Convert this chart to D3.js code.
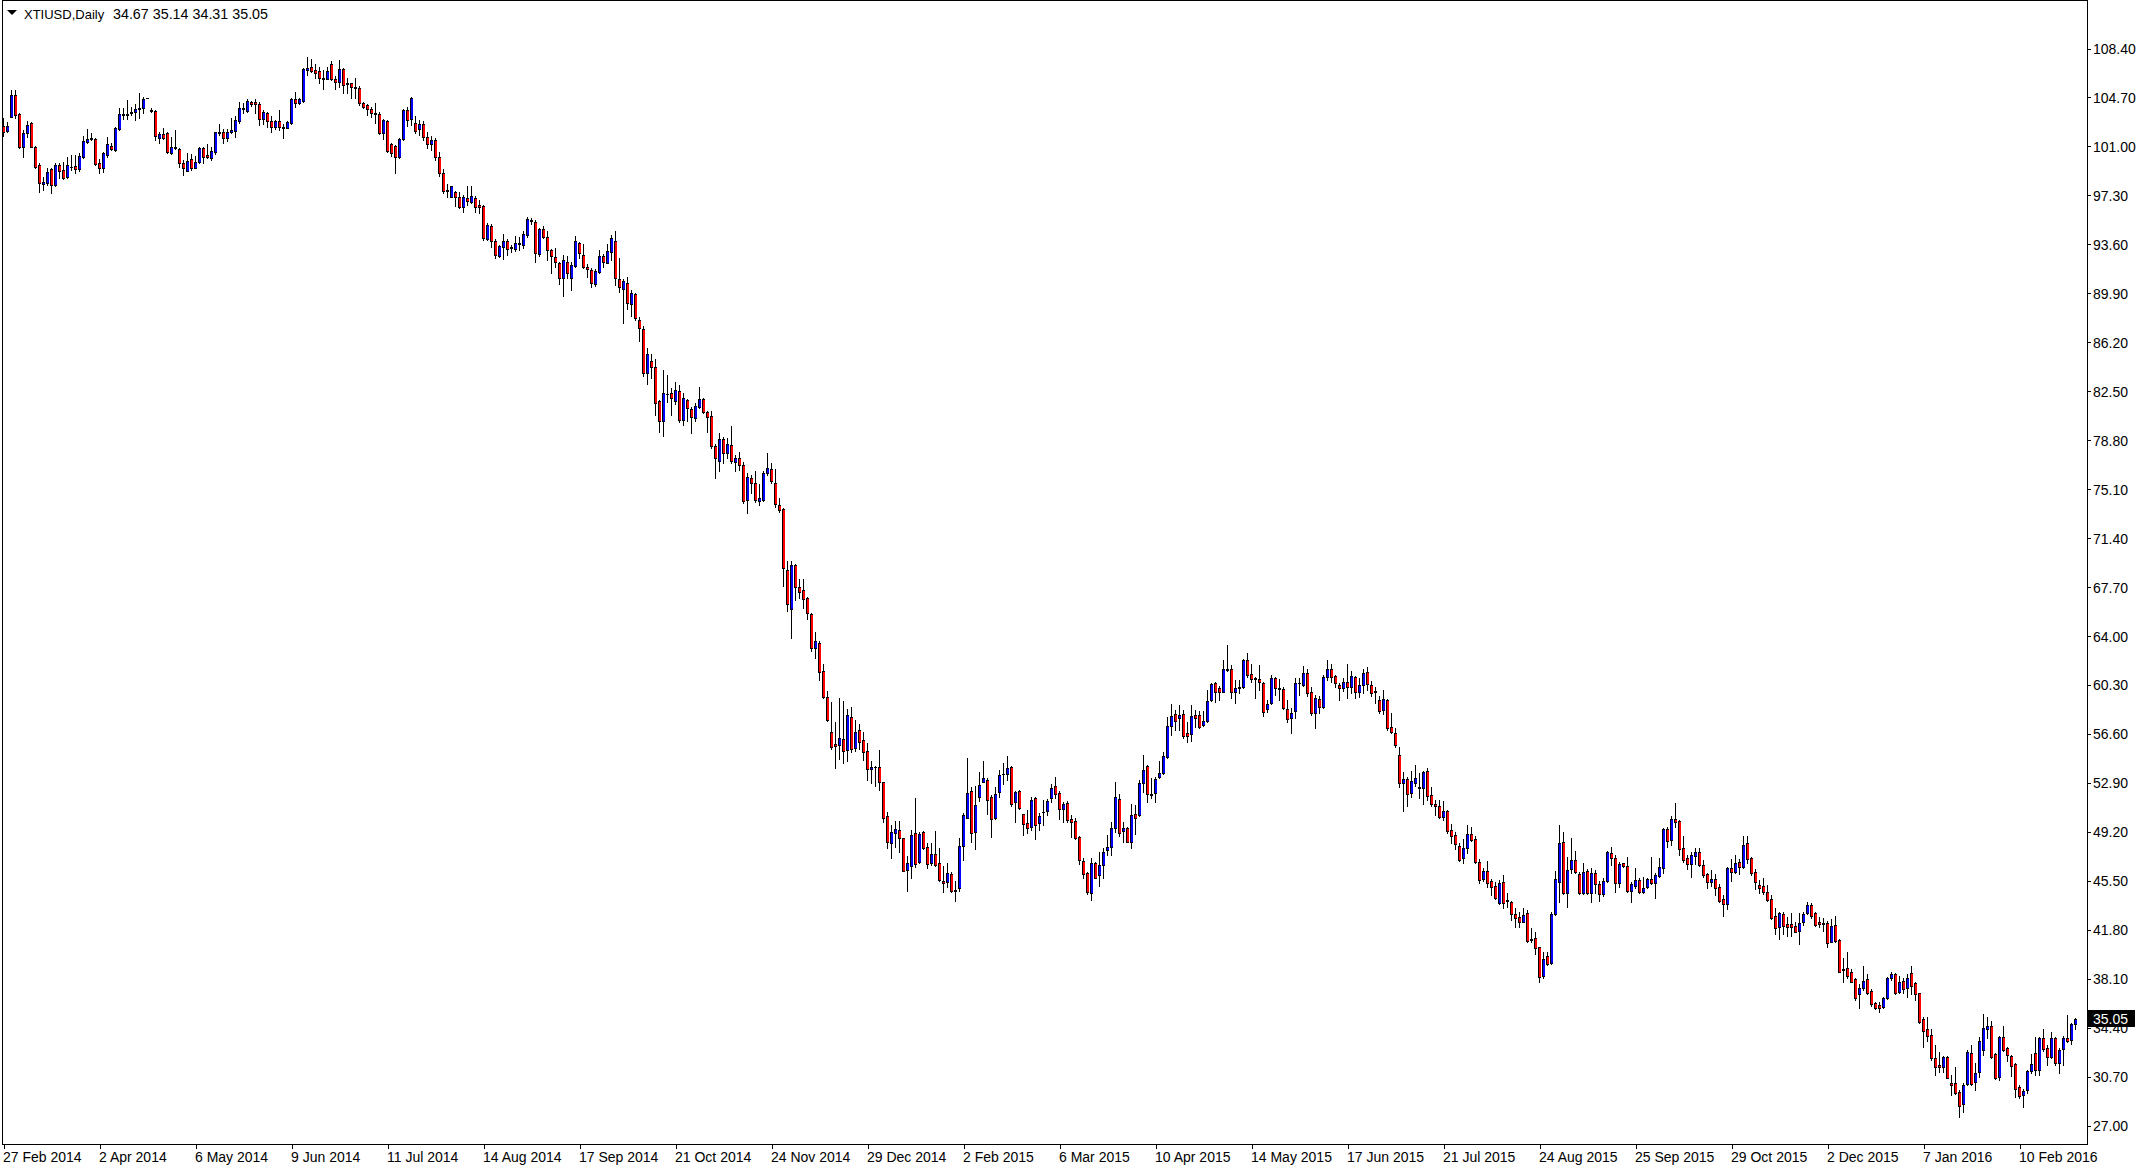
<!DOCTYPE html>
<html><head><meta charset="utf-8">
<script src="https://cdn.jsdelivr.net/npm/d3@7"></script>
<style>
html,body{margin:0;padding:0;background:#fff;overflow:hidden}
svg{display:block;font-family:"Liberation Sans",Arial,sans-serif}
</style></head><body>
<svg id="chart" width="2138" height="1171"></svg>
<script>
const symbolName = "XTIUSD,Daily";
const lastQuote = ["34.67","35.14","34.31","35.05"];

const opens = [
102.57,102.19,103.25,104.89,103.45,100.98,101.99,102.75,100.98,99.60,
98.14,98.26,99.27,98.09,99.60,99.22,98.67,99.42,99.52,99.27,
100.23,101.36,101.56,101.54,99.77,99.35,100.35,101.04,100.73,102.32,
103.38,103.40,103.55,103.63,103.83,103.88,104.64,103.76,103.68,101.61,
101.94,102.04,100.53,100.98,100.81,99.72,99.17,100.03,99.40,99.85,
100.91,100.35,100.10,100.61,102.09,102.07,101.61,102.12,102.19,102.92,
103.86,103.70,104.33,104.33,104.21,103.05,103.50,102.92,102.50,102.92,
102.47,102.42,102.75,104.56,104.26,104.46,106.78,106.98,106.78,106.70,
106.17,106.12,107.23,106.07,105.85,106.85,105.77,105.77,105.47,105.39,
104.26,104.13,103.81,103.55,103.45,102.04,102.92,101.16,101.06,100.18,
101.54,103.76,103.05,102.80,102.30,102.70,101.70,101.20,101.50,100.20,
99.00,97.69,97.21,97.54,97.16,96.45,97.08,96.83,97.08,96.58,
96.50,93.99,94.99,93.86,92.73,93.43,93.86,93.38,93.23,93.61,
93.56,94.31,95.42,95.32,92.88,94.74,94.14,93.18,92.63,92.22,
91.04,92.30,91.09,91.97,93.68,92.80,91.87,91.67,90.61,91.54,
92.75,92.22,93.05,93.86,90.99,90.23,90.66,89.07,89.83,87.89,
87.21,83.91,84.79,84.31,81.77,80.28,82.30,82.35,81.79,82.52,
80.33,81.84,81.16,80.51,81.34,81.92,80.96,80.63,78.32,77.23,
78.90,77.81,78.44,77.18,77.43,76.93,74.28,75.92,75.54,74.21,
74.28,76.35,76.60,75.54,73.86,73.60,68.99,66.04,69.37,67.68,
67.45,66.85,65.64,63.12,63.47,61.36,59.37,56.72,55.82,55.76,
56.19,55.39,57.86,55.56,56.90,56.14,55.31,53.93,54.13,54.08,
52.94,50.40,48.33,49.09,49.34,48.71,46.31,46.64,49.08,46.89,
49.16,48.08,46.82,47.50,46.82,45.48,45.43,45.98,44.78,44.98,
48.15,50.27,52.28,49.21,51.80,52.99,53.11,51.85,50.22,52.18,
53.57,53.54,54.07,51.48,52.28,50.52,49.84,49.59,51.78,49.84,
50.67,50.80,51.73,52.66,52.11,50.90,51.35,50.17,50.02,48.78,
46.99,46.06,44.55,46.81,45.93,46.69,47.82,48.07,49.51,51.67,
49.26,49.51,48.45,50.52,50.46,52.86,54.17,52.03,52.10,53.36,
53.61,54.82,57.22,58.07,57.82,58.10,56.66,56.59,58.02,58.02,
57.27,57.57,59.16,60.42,60.04,59.79,61.48,61.50,59.74,60.09,
60.17,62.18,61.10,60.79,60.74,60.42,58.48,58.90,60.79,60.09,
59.99,58.48,57.77,58.33,60.42,60.29,61.18,59.79,58.15,59.21,
58.61,60.87,61.48,60.97,60.29,60.04,60.50,60.17,60.92,59.79,
60.29,61.30,60.29,59.84,59.16,58.41,59.16,57.10,56.64,55.00,
52.91,53.19,52.16,52.86,52.56,52.48,53.80,51.98,51.30,51.15,
50.29,50.77,49.33,48.96,48.13,47.19,47.95,49.03,48.63,46.94,
45.61,46.26,45.50,45.10,43.84,45.38,44.04,43.92,42.96,42.73,
42.41,43.04,41.07,41.14,40.47,38.32,39.84,39.26,42.96,45.43,
48.40,44.55,46.39,47.07,46.01,44.60,46.24,44.60,46.06,45.23,
44.47,45.48,47.57,47.24,45.30,46.82,46.64,44.75,45.13,45.56,
44.62,45.05,45.63,45.30,45.88,46.49,49.41,48.58,50.17,50.02,
47.95,47.19,46.74,47.40,47.70,46.69,45.98,45.43,45.61,45.05,
44.10,43.72,46.49,46.14,46.89,46.56,48.33,47.19,46.14,45.18,
45.10,44.62,44.10,42.84,42.03,42.99,42.23,42.23,42.11,41.70,
42.36,43.09,43.67,43.04,42.36,42.28,42.28,40.90,42.16,41.02,
38.83,38.88,38.58,38.07,36.91,37.37,38.07,37.17,36.24,36.11,
35.98,36.66,38.12,38.43,37.12,37.92,37.37,38.51,37.75,36.99,
35.03,34.27,33.85,32.08,31.58,31.45,32.16,30.19,30.19,29.56,
28.60,30.14,32.46,30.32,31.07,32.71,34.30,34.53,32.41,30.70,
33.67,32.84,32.26,31.65,29.94,29.31,29.69,31.15,32.46,31.20,
33.59,32.84,32.16,33.59,31.75,32.76,33.59,33.47,34.67
];
const highs = [
103.13,102.87,105.27,105.27,103.50,102.24,102.95,102.87,101.06,99.72,
98.72,99.35,99.35,99.72,99.72,99.85,100.23,100.35,100.35,100.48,
101.79,102.29,101.99,101.61,100.03,100.61,101.74,101.29,102.50,103.88,
103.88,104.51,103.96,104.21,105.02,104.76,104.64,103.88,103.76,102.12,
102.37,102.07,101.69,102.24,100.86,99.98,100.48,100.43,100.28,100.98,
100.98,101.19,100.98,102.12,102.70,102.32,102.32,103.13,103.30,104.38,
104.31,104.56,104.46,104.56,104.38,103.76,103.63,103.33,102.97,103.76,
102.70,102.92,104.64,105.14,104.69,106.90,107.79,107.61,107.23,107.03,
106.78,106.98,107.46,106.32,107.53,106.90,106.15,105.82,106.15,105.57,
104.38,104.21,103.96,104.31,103.63,103.05,103.00,101.24,101.11,101.61,
103.81,103.96,104.76,103.30,103.00,102.90,102.10,101.80,101.60,100.60,
99.30,98.17,98.02,97.66,97.59,97.34,98.02,97.97,97.26,96.96,
96.56,95.20,95.14,93.99,93.56,94.39,93.99,93.56,94.24,94.14,
94.57,95.70,95.57,95.45,94.82,94.99,94.64,93.23,93.31,92.30,
92.80,92.68,92.30,94.24,93.81,93.63,92.12,91.79,91.72,93.18,
92.88,93.63,94.31,94.57,92.55,90.99,91.16,90.16,89.90,88.07,
87.39,85.75,85.29,84.94,81.84,84.11,83.73,82.72,83.18,82.98,
82.35,81.89,81.34,81.59,82.80,82.02,81.01,81.01,78.49,79.32,
79.00,78.95,79.88,77.69,77.94,77.13,76.30,76.17,76.48,75.47,
76.43,77.81,77.06,76.63,74.46,73.65,69.67,69.67,69.42,68.31,
68.31,66.98,65.72,64.33,63.63,61.86,59.85,59.04,57.53,59.34,
59.09,58.49,58.66,57.65,57.33,56.72,55.89,54.56,54.20,55.39,
52.99,50.68,49.72,50.02,50.02,48.76,47.40,49.34,51.78,49.16,
49.26,48.33,48.33,49.26,48.00,46.64,46.82,46.14,45.48,48.76,
50.60,54.80,52.61,52.69,53.74,54.58,53.24,51.98,52.61,53.87,
54.37,54.93,54.20,52.28,52.36,50.57,50.85,51.85,51.85,50.60,
51.60,51.68,52.79,53.37,52.28,51.48,51.53,50.47,50.22,48.91,
47.19,46.19,47.20,46.94,47.64,47.95,48.95,49.91,52.98,52.03,
49.91,49.58,51.27,51.22,53.11,55.00,54.24,53.29,53.36,54.55,
55.25,57.90,58.83,58.40,58.78,58.40,57.47,58.78,58.40,58.33,
58.33,59.91,60.42,60.54,60.24,62.18,63.31,61.80,60.67,60.67,
62.26,62.68,61.85,60.92,61.80,60.49,59.16,61.05,60.92,60.74,
60.17,59.16,58.58,60.84,60.80,61.73,61.48,60.12,59.54,59.46,
61.05,62.18,61.88,61.05,60.47,60.80,61.88,61.38,60.97,60.80,
61.48,61.63,60.62,60.12,59.46,59.92,59.21,58.20,57.02,55.58,
53.74,53.32,53.82,54.25,53.67,53.82,53.99,52.61,51.60,51.60,
51.53,50.85,49.79,49.21,48.33,48.63,49.71,49.59,48.88,47.12,
46.44,47.02,45.61,45.43,45.55,45.93,44.55,43.97,43.46,43.11,
43.41,43.29,41.90,41.60,40.52,40.14,40.14,43.11,46.24,49.71,
49.16,47.32,48.70,47.75,46.19,46.82,46.39,46.44,46.31,45.48,
45.68,47.75,48.07,47.45,46.94,46.87,47.32,45.38,46.49,45.68,
45.81,45.68,47.32,46.06,47.24,49.51,49.59,50.42,51.35,50.09,
48.91,47.45,47.65,48.00,47.95,47.07,46.06,46.31,45.99,45.23,
44.42,46.56,47.14,47.45,47.14,48.91,48.91,47.32,46.39,45.56,
45.73,45.18,44.42,43.42,43.16,43.11,42.79,43.04,42.36,43.04,
43.11,43.87,43.79,43.16,42.79,42.66,42.46,42.61,42.86,41.10,
39.69,40.09,38.83,38.12,37.67,39.08,38.43,37.32,36.36,36.31,
36.74,38.20,38.63,38.50,38.33,38.12,38.43,39.07,37.88,37.05,
35.23,35.23,34.27,33.09,32.58,32.26,32.26,30.82,31.40,29.69,
30.19,32.71,33.09,31.70,33.72,35.43,35.23,34.93,32.51,33.77,
34.53,32.96,32.33,31.70,30.07,29.74,31.20,32.41,33.67,33.67,
34.27,33.09,34.10,33.67,32.84,33.77,35.36,34.78,35.14
];
const lows = [
101.79,102.12,103.20,103.13,100.86,100.23,101.74,100.93,99.35,97.58,
97.71,98.09,97.46,98.01,98.59,98.52,98.59,99.22,98.97,99.17,
100.10,101.29,101.49,99.60,98.97,99.10,100.23,100.73,100.68,102.24,
103.08,103.10,103.38,103.00,103.13,103.55,104.64,103.63,101.49,101.24,
101.54,100.53,100.43,100.78,99.42,98.84,99.17,99.22,99.35,99.77,
99.72,100.10,99.98,100.43,101.87,101.29,101.44,102.04,101.69,102.80,
103.50,103.63,104.06,103.55,102.62,102.70,102.44,102.12,102.29,102.24,
101.61,102.37,102.70,104.01,104.18,104.38,106.40,106.65,106.15,105.82,
105.32,106.07,106.02,105.32,105.47,105.07,105.02,104.64,104.64,104.13,
103.88,103.38,103.25,102.80,101.94,101.54,100.61,100.28,99.02,100.10,
101.49,102.55,102.62,102.00,101.90,101.50,100.90,100.70,100.00,98.80,
97.50,97.21,97.16,96.50,96.33,96.08,96.58,96.71,96.08,95.95,
93.94,93.94,93.43,92.55,92.63,92.50,92.80,93.05,93.13,93.18,
93.31,94.19,95.14,92.30,92.68,94.06,92.42,91.47,91.92,90.61,
89.73,91.04,90.16,91.92,92.55,91.79,91.16,90.36,90.46,91.42,
91.87,92.17,92.42,90.54,90.03,87.69,88.72,88.22,87.89,86.30,
83.61,83.03,83.53,80.71,79.45,79.15,81.72,80.71,81.54,80.20,
79.95,80.26,79.32,80.26,81.26,80.84,79.45,78.19,75.97,76.48,
77.06,77.43,77.06,76.43,76.55,74.03,73.28,74.79,74.16,73.91,
74.21,76.17,75.54,73.78,73.35,67.81,65.92,63.83,66.72,66.90,
66.14,65.29,62.87,62.37,60.68,59.29,57.58,55.46,54.00,54.71,
54.38,54.56,55.21,55.31,55.46,54.63,53.12,52.87,52.69,52.36,
49.97,47.95,47.20,48.08,47.65,46.24,44.75,45.68,46.56,46.82,
47.90,46.49,46.69,46.64,45.48,44.62,45.05,44.67,43.97,44.72,
47.07,50.22,48.45,47.90,51.53,52.94,50.52,48.83,50.17,51.85,
52.79,53.11,51.17,49.92,50.92,48.96,49.08,49.34,48.63,49.34,
49.71,50.47,51.43,51.78,50.17,49.92,49.97,48.83,48.65,46.74,
45.73,44.47,44.08,45.68,45.12,45.73,47.44,47.44,49.20,48.90,
48.40,48.40,47.94,49.00,50.41,52.18,51.42,51.77,51.47,53.29,
53.54,54.75,56.51,56.89,56.89,56.31,55.96,56.06,57.14,57.07,
57.22,57.52,59.08,59.03,59.16,59.74,61.35,59.28,58.91,59.66,
60.09,60.92,60.54,59.33,59.91,57.97,58.22,58.83,59.54,59.16,
58.48,57.47,56.64,57.82,59.54,60.22,59.46,58.03,57.02,58.20,
58.53,60.67,60.55,60.12,59.16,59.87,59.29,59.72,59.29,59.36,
59.66,59.92,59.46,58.91,58.20,58.10,56.89,56.69,55.63,52.61,
50.80,51.15,51.85,52.66,51.73,51.30,51.60,51.15,50.47,50.22,
50.09,49.13,48.33,47.87,47.02,46.82,47.57,48.53,46.82,45.30,
45.50,45.05,44.42,44.09,43.74,43.41,43.54,42.53,42.03,42.03,
42.36,40.89,40.89,39.94,37.87,38.12,39.13,39.21,42.91,43.92,
44.47,43.54,46.06,46.06,44.47,44.47,44.47,43.87,44.55,43.97,
44.37,45.38,46.69,44.62,45.05,46.56,44.62,43.87,44.98,44.55,
44.55,44.93,45.23,44.22,45.81,46.06,48.07,48.20,49.59,47.45,
46.89,46.39,45.81,46.74,46.64,45.81,44.98,45.13,44.42,43.87,
42.86,43.37,45.48,46.06,45.99,46.49,46.82,45.94,44.88,44.55,
44.47,43.97,42.61,41.45,41.10,41.45,41.35,41.35,41.60,40.69,
42.16,42.96,42.71,42.11,42.03,41.70,40.52,40.85,40.90,38.58,
37.82,38.17,37.82,36.49,35.91,37.24,36.91,36.06,35.81,35.60,
35.86,36.56,38.00,36.91,36.99,36.99,36.74,36.93,36.49,34.73,
32.96,33.42,31.96,30.82,31.07,31.07,30.57,29.31,29.39,27.67,
28.05,30.07,30.07,29.69,30.65,32.33,33.59,32.08,30.49,30.44,
32.66,31.91,30.75,29.18,29.06,28.38,29.49,30.95,30.82,30.82,
32.66,31.58,32.08,31.58,30.99,31.58,33.34,33.14,34.31
];
const closes = [
102.12,102.55,104.89,103.38,100.98,102.04,102.62,100.98,99.42,98.21,
98.34,99.09,98.09,99.60,99.17,98.59,99.60,99.47,99.27,100.28,
101.41,101.54,101.66,99.67,99.35,100.53,101.19,100.81,102.37,103.45,
103.43,103.43,103.60,103.83,103.88,104.59,104.64,103.68,101.82,101.94,
101.61,100.61,100.98,100.86,99.72,99.35,99.90,99.35,99.85,100.86,
100.22,100.18,100.66,102.07,101.99,101.61,102.12,102.24,103.00,103.88,
103.91,104.46,104.21,104.18,103.05,103.58,102.92,102.50,102.92,102.44,
102.42,102.82,104.56,104.26,104.56,106.85,106.90,106.73,106.58,106.20,
106.12,106.70,106.07,105.85,106.85,105.64,105.69,105.47,105.39,104.26,
104.01,103.81,103.50,103.43,102.04,103.00,100.68,100.48,100.18,101.54,
103.76,103.00,104.64,102.20,102.70,101.70,101.20,101.50,100.20,99.00,
97.66,97.64,97.97,97.16,96.45,97.16,96.91,97.26,96.45,96.45,
94.06,95.07,93.88,92.80,93.48,93.86,93.25,93.33,93.68,93.73,
94.39,95.52,95.37,92.93,94.74,94.14,93.18,92.68,92.25,91.09,
92.42,91.47,92.05,93.86,92.93,91.92,91.72,90.71,91.62,92.75,
92.30,93.13,94.06,91.09,90.41,90.84,89.15,89.90,88.02,87.26,
83.91,85.29,84.29,81.64,80.28,82.35,82.25,81.97,82.60,80.33,
81.97,81.21,80.58,81.41,81.92,80.89,80.53,78.32,77.48,78.90,
77.81,78.52,77.23,77.43,76.93,74.21,75.99,75.54,74.28,74.41,
76.30,76.73,75.72,73.96,73.53,69.12,66.40,69.37,67.68,67.35,
66.80,65.72,63.12,63.63,61.31,59.42,57.65,55.64,55.71,56.27,
55.31,58.03,55.46,56.72,55.97,55.21,53.93,54.13,54.08,52.94,
50.22,48.41,49.16,49.42,48.76,46.26,46.82,48.96,46.74,49.01,
47.95,46.74,47.50,46.69,45.56,45.35,46.06,44.72,44.76,48.13,
50.47,52.11,49.08,51.23,52.74,53.29,51.60,50.14,52.03,53.49,
53.59,54.00,51.28,52.18,50.97,49.76,49.46,51.60,49.71,50.39,
50.72,51.53,52.53,52.03,50.90,51.28,50.09,49.92,48.76,47.07,
45.98,44.62,46.82,45.73,46.69,47.64,48.02,49.46,51.80,49.08,
49.51,48.45,50.46,50.21,52.86,53.87,52.03,51.98,53.19,53.61,
54.92,57.19,57.95,57.57,58.02,56.46,56.46,57.95,57.82,57.14,
57.57,59.08,60.34,59.79,59.74,61.50,61.42,59.74,60.09,60.14,
62.18,61.05,60.74,60.77,60.49,58.27,58.85,60.79,60.04,59.99,
58.53,57.72,58.15,60.42,60.47,61.18,59.72,58.20,59.29,58.61,
60.87,61.48,60.92,60.42,60.04,60.55,60.17,60.97,59.79,60.29,
61.18,60.34,59.72,59.79,58.33,59.21,57.02,56.77,55.76,52.86,
53.16,52.06,53.04,53.24,52.51,53.74,51.93,51.27,51.17,50.29,
50.77,49.26,48.91,48.25,47.07,47.95,49.03,48.58,46.94,45.56,
46.26,45.35,45.05,44.17,45.30,43.79,43.97,42.96,42.71,42.41,
42.91,40.94,41.02,40.39,38.25,39.56,39.18,42.96,45.63,48.33,
44.55,46.31,47.07,46.14,44.60,46.14,44.55,46.06,45.23,44.47,
45.48,47.65,47.19,45.30,46.74,46.64,44.72,45.23,45.56,44.62,
44.98,45.63,45.30,45.93,46.56,49.41,48.50,50.17,49.91,47.90,
47.07,46.74,47.45,47.70,46.69,45.96,45.38,45.63,44.93,43.97,
43.72,46.49,46.14,46.82,46.56,48.20,47.14,46.06,45.38,44.98,
44.62,44.04,42.71,41.90,43.04,42.11,42.03,41.98,41.65,42.28,
42.96,43.67,42.86,42.16,42.21,42.21,40.77,42.08,40.95,38.63,
38.78,38.33,37.87,36.66,37.37,37.92,36.99,36.16,35.91,35.91,
36.61,38.12,38.43,36.99,37.87,37.32,38.12,37.57,36.94,34.85,
34.15,33.77,32.08,31.45,31.40,32.16,30.62,30.07,29.49,28.50,
30.07,32.58,30.14,30.95,33.42,34.35,34.53,32.16,30.57,33.67,
32.71,32.33,31.50,29.74,29.26,29.61,31.12,31.65,31.20,33.59,
32.76,32.16,33.59,31.70,32.71,33.59,33.42,34.68,35.05
];

const dateTickBars = [0,24,48,72,96,120,144,168,192,216,240,264,288,312,336,360,384,408,432,456,480,504];
const dateTickLabels = ["27 Feb 2014","2 Apr 2014","6 May 2014","9 Jun 2014","11 Jul 2014","14 Aug 2014",
  "17 Sep 2014","21 Oct 2014","24 Nov 2014","29 Dec 2014","2 Feb 2015","6 Mar 2015","10 Apr 2015",
  "14 May 2015","17 Jun 2015","21 Jul 2015","24 Aug 2015","25 Sep 2015","29 Oct 2015","2 Dec 2015",
  "7 Jan 2016","10 Feb 2016"];
const priceTicks = [27.00,30.70,34.40,38.10,41.80,45.50,49.20,52.90,56.60,60.30,64.00,67.70,
  71.40,75.10,78.80,82.50,86.20,89.90,93.60,97.30,101.00,104.70,108.40];

// ---------- layout ----------
const plotLeft = 2, plotRight = 2087, plotBottom = 1144;
const svg = d3.select('#chart');
svg.append('rect').attr('width',2138).attr('height',1171).attr('fill','#fff');

const n = opens.length;
const x = d3.scaleLinear().domain([0, n - 1]).range([3.5, 3.5 + 4 * (n - 1)]);
const y = d3.scaleLinear().domain([27, 108.4]).range([1125.5, 48.5]);

const data = opens.map((o, i) => ({ i, o, h: highs[i], l: lows[i], c: closes[i] }));

const bars = svg.append('g').attr('shape-rendering', 'crispEdges');
bars.selectAll('line.wick').data(data).join('line').attr('class','wick')
  .attr('x1', d => x(d.i)).attr('x2', d => x(d.i))
  .attr('y1', d => Math.round(y(d.h))).attr('y2', d => Math.round(y(d.l)) + 1)
  .attr('stroke', '#000').attr('stroke-width', 1);

const bodyTop = d => Math.round(y(Math.max(d.o, d.c)));
const bodyBot = d => Math.round(y(Math.min(d.o, d.c)));
bars.selectAll('rect.body').data(data).join('rect').attr('class','body')
  .attr('x', d => x(d.i) - 1.5).attr('width', 3)
  .attr('y', bodyTop).attr('height', d => bodyBot(d) - bodyTop(d) + 1)
  .attr('fill', '#000');
bars.selectAll('rect.fill').data(data.filter(d => bodyBot(d) - bodyTop(d) >= 2)).join('rect').attr('class','fill')
  .attr('x', d => x(d.i) - 0.5).attr('width', 2)
  .attr('y', d => bodyTop(d) + 1).attr('height', d => bodyBot(d) - bodyTop(d) - 1)
  .attr('fill', d => d.c >= d.o ? '#0000ff' : '#ff0000');

// ---------- frame ----------
const frame = svg.append('g').attr('shape-rendering', 'crispEdges').attr('stroke', '#000');
frame.append('line').attr('x1', plotLeft + 0.5).attr('x2', plotLeft + 0.5).attr('y1', 0).attr('y2', plotBottom + 1);
frame.append('line').attr('x1', plotLeft).attr('x2', plotRight + 1).attr('y1', 0.5).attr('y2', 0.5);
frame.append('line').attr('x1', plotLeft).attr('x2', plotRight + 1).attr('y1', plotBottom + 0.5).attr('y2', plotBottom + 0.5);
frame.append('line').attr('x1', plotRight + 0.5).attr('x2', plotRight + 0.5).attr('y1', 0).attr('y2', plotBottom + 1);

// ---------- axes ----------
const xAxis = d3.axisBottom(x).tickValues(dateTickBars)
  .tickFormat((d, k) => dateTickLabels[k]).tickSizeInner(5).tickSizeOuter(0);
const gx = svg.append('g').attr('transform', `translate(0,${plotBottom})`).call(xAxis);
gx.select('.domain').remove();
gx.selectAll('.tick line').attr('stroke', '#000').attr('shape-rendering', 'crispEdges');
gx.selectAll('.tick text').attr('text-anchor', 'start').attr('x', -1).attr('y', 18).attr('dy', null)
  .attr('fill', '#000').style('font-size', '14px').style('font-family', '"Liberation Sans",Arial,sans-serif');

const yAxis = d3.axisRight(y).tickValues(priceTicks).tickFormat(d3.format('.2f'))
  .tickSizeInner(4).tickSizeOuter(0);
const gy = svg.append('g').attr('transform', `translate(${plotRight},0)`).call(yAxis);
gy.select('.domain').remove();
gy.selectAll('.tick line').attr('stroke', '#000').attr('shape-rendering', 'crispEdges');
gy.selectAll('.tick text').attr('x', 6).attr('dy', '0.36em').attr('fill', '#000')
  .style('font-size', '14px').style('font-family', '"Liberation Sans",Arial,sans-serif');

// current price label
const lastClose = closes[n - 1];
const yc = Math.round(y(lastClose));
svg.append('rect').attr('x', plotRight + 1).attr('y', yc - 9).attr('width', 47).attr('height', 17)
  .attr('fill', '#000').attr('shape-rendering', 'crispEdges');
svg.append('text').attr('x', plotRight + 6).attr('y', yc).attr('dy', '0.36em')
  .attr('fill', '#fff').style('font-size', '14px').text(d3.format('.2f')(lastClose));

// ---------- header ----------
svg.append('path').attr('d', 'M7,10 L17,10 L12,15 Z').attr('fill', '#000');
svg.append('text').attr('x', 24).attr('y', 19).attr('fill', '#000').style('font-size', '13px').text(symbolName);
svg.append('text').attr('x', 113).attr('y', 19).attr('fill', '#000').style('font-size', '14.3px')
  .attr('xml:space', 'preserve').text(lastQuote.join(' '));
</script>
</body></html>
